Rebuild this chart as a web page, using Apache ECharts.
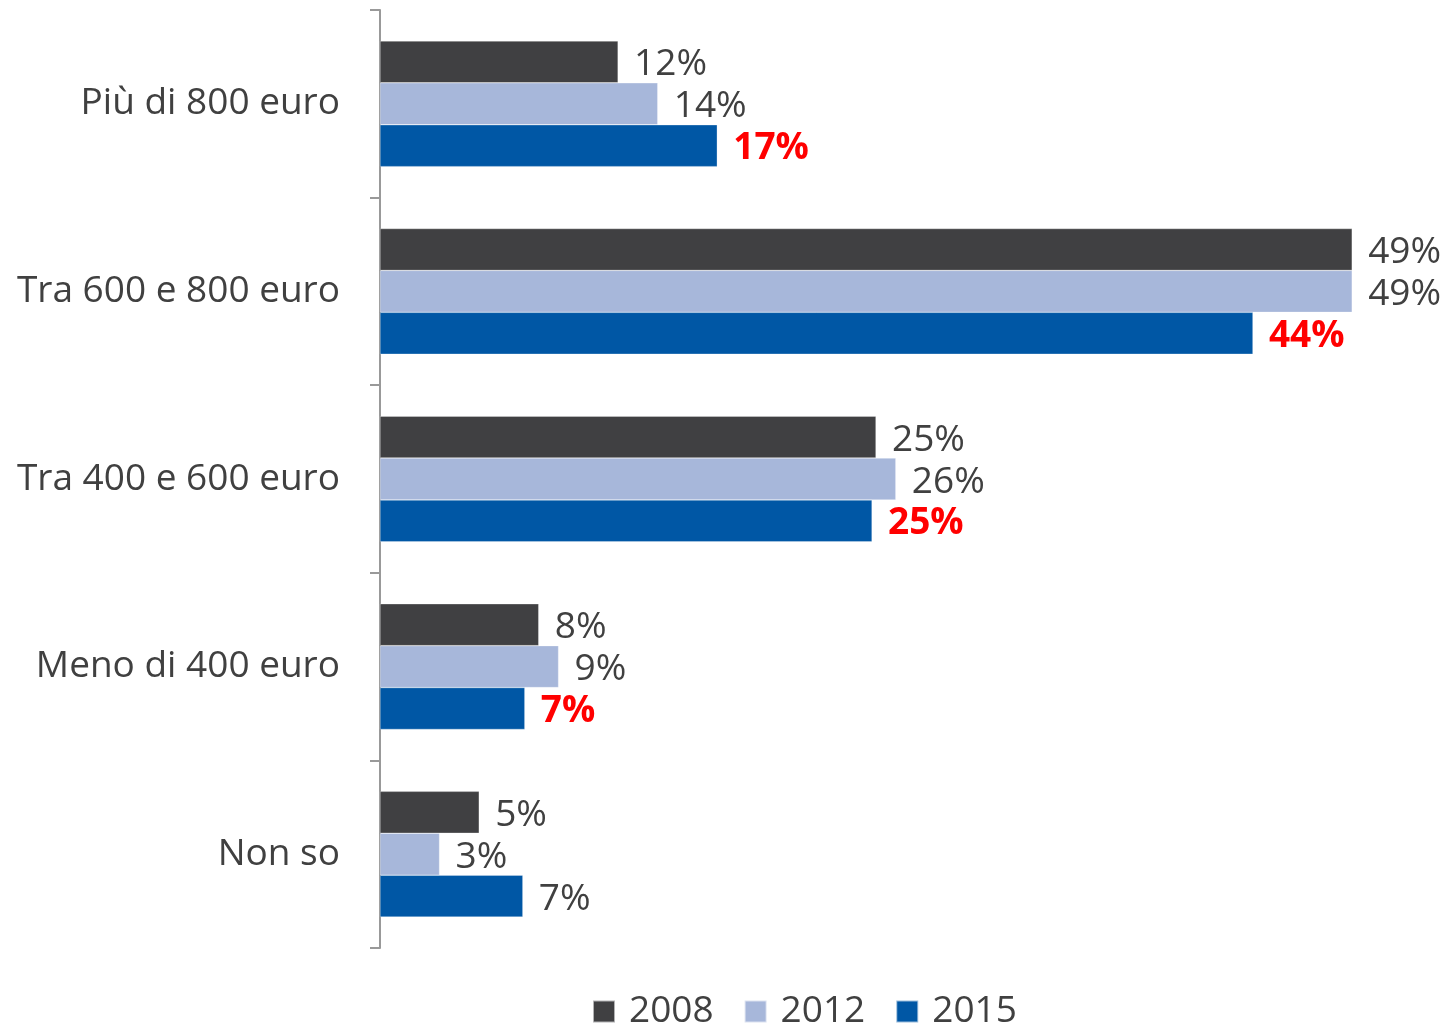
<!DOCTYPE html>
<html>
<head>
<meta charset="utf-8">
<script src="https://cdn.jsdelivr.net/npm/echarts@6/dist/echarts.min.js"></script>
<style>
  html, body { margin: 0; padding: 0; background: #fff; }
  #chart { width: 1448px; height: 1028px; }
</style>
</head>
<body>
<div id="chart"></div>
<script>
var categories = ['Più di 800 euro', 'Tra 600 e 800 euro', 'Tra 400 e 600 euro', 'Meno di 400 euro', 'Non so']
var years = ['2008', '2012', '2015']
var values2008 = [12, 49, 25, 8, 5]
var values2012 = [14, 49, 26, 9, 3]
var values2015 = [17, 44, 24.8, 7.3, 7.2]
// 2015 labels are red and bold, except "Non so"
var highlight2015 = [true, true, true, true, false]
var colors = ['#404042', '#A7B7DA', '#0057A5']

var FONT = 'Open Sans'
var TEXT = '#404040'
var FS = 37

function pctLabel(p) { return Math.round(p.value) + '%' }

function makeSeries(name, vals, color, hl) {
  return {
    name: name,
    type: 'bar',
    barGap: '0%',
    barCategoryGap: '33%',
    itemStyle: { color: color, borderColor: 'rgba(255,255,255,0.6)', borderWidth: 0.5 },
    label: {
      show: true, position: 'right', distance: 16,
      fontFamily: FONT, fontSize: FS, color: TEXT,
      offset: [0, 3],
      formatter: pctLabel
    },
    data: vals.map(function (v, i) {
      var d = { value: v }
      if (hl && hl[i]) d.label = { color: '#FF0000', fontWeight: 'bold' }
      return d
    })
  }
}

var chart = echarts.init(document.getElementById('chart'))
chart.setOption({
  animation: false,
  textStyle: { fontFamily: FONT },
  grid: { left: 380, top: 10, bottom: 80, right: 76, containLabel: false },
  legend: {
    top: 988, left: 587,
    icon: 'rect', itemWidth: 22, itemHeight: 22, itemGap: 30,
    textStyle: { fontFamily: FONT, fontSize: FS, color: TEXT, padding: [0, 0, 0, 9] },
    data: years
  },
  xAxis: {
    type: 'value', min: 0, max: 50,
    show: false
  },
  yAxis: {
    type: 'category', inverse: true,
    data: categories,
    axisLine: { show: true, lineStyle: { color: '#999999', width: 2 } },
    axisTick: { show: true, length: 10, lineStyle: { color: '#999999', width: 2 } },
    axisLabel: { fontFamily: FONT, fontSize: FS, color: TEXT, margin: 40, padding: [6, 0, 0, 0] }
  },
  series: [
    makeSeries(years[0], values2008, colors[0]),
    makeSeries(years[1], values2012, colors[1]),
    makeSeries(years[2], values2015, colors[2], highlight2015)
  ]
})
</script>
</body>
</html>
